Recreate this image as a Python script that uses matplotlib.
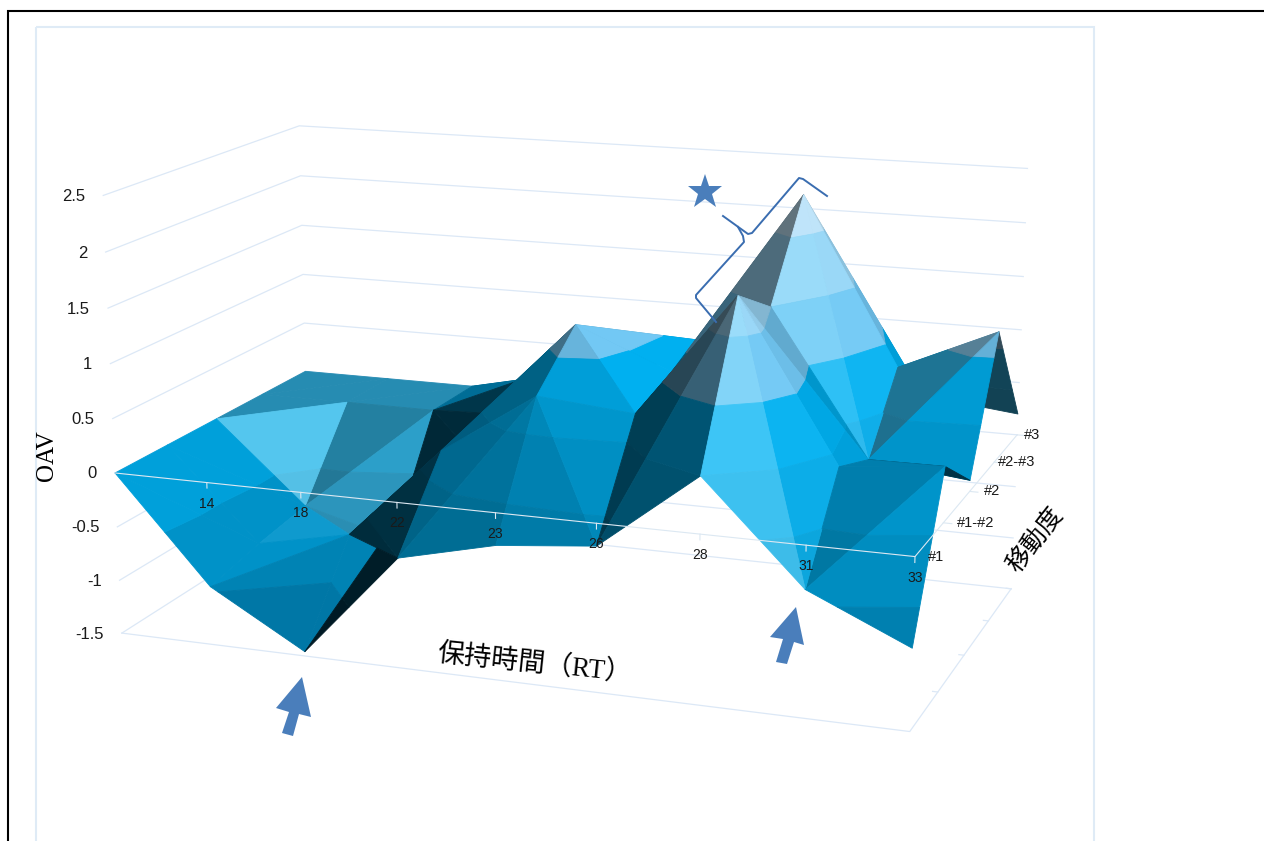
"""Surface of OAV over retention time and mobility, drawn on a fixed camera."""

import matplotlib
matplotlib.use("Agg")
import matplotlib.pyplot as plt
import numpy as np
from matplotlib.colors import to_rgb
from matplotlib.patches import Polygon, Rectangle
from mpl_toolkits.mplot3d.art3d import Poly3DCollection

rt_labels = ["", "14", "18", "22", "23", "26", "28", "31", "33"]
mobility_labels = ["#1", "#1-#2", "#2", "#2-#3", "#3"]
oav_ticks = [-1.5, -1, -0.5, 0, 0.5, 1, 1.5, 2, 2.5]

oav_1 = [0, -0.96, -1.46, -0.50, -0.29, -0.20, 0.50, -0.38, -0.78]
oav_1_2 = [0, -0.85, -0.67, 0.20, 0.78, 0.70, 1.81, 0.40, 0.49]
oav_2 = [0, -0.77, -1.00, 0.30, 1.20, 0.84, 1.50, 0.20, 0.10]
oav_2_3 = [0, 0, 0, 0.38, 0.40, 0.90, 2.32, 0.80, 1.20]
oav_3 = [0, 0, 0, 0, 0.40, 0.80, 1.00, 0.30, 0.20]

# camera fitted on the reference: (rt index, mobility index, oav) -> pixels
CAMERA = np.array([
    [89.33841, 58.09574, -5.731103, 115.0465],
    [3.966641, -12.65417, -112.9325, 472.9854],
    [-0.01164576, 0.03435906, -0.009784344, 1.0],
])
W, H = 1264, 841

BAND_EDGES = [-1.5, -1, -0.5, 0, 0.5, 1, 1.5, 2, 2.5]
BAND_COLORS = ["#0084B8", "#0092C8", "#00A0DA", "#00A8E6", "#00B0F0",
               "#72C8F4", "#9AD6F6", "#BFE4F8"]
HIGHLIGHT = np.array([0.6, 0.9, 1.0])
GRID = "#DCE8F6"
AXIS = "#DCE8F2"
ACCENT = "#4A7EBB"
BRACE = "#3A6DB0"
TEXT = "#1A1A1A"

# lighting read per facet: (rt cell, mobility cell, triangle) -> brightness
FACET_SHADE = {
    (0, 0, 0): 1.0, (0, 0, 1): 1.0, (0, 1, 0): 1.0, (0, 1, 1): 1.0,
    (0, 2, 0): 1.55, (0, 2, 1): 0.85, (0, 3, 0): 0.85, (0, 3, 1): 0.85,
    (1, 0, 0): 0.9, (1, 0, 1): 1.0, (1, 1, 0): 1.1, (1, 1, 1): 0.95,
    (1, 2, 0): 1.0, (1, 2, 1): 0.8, (1, 3, 0): 0.85, (1, 3, 1): 0.85,
    (2, 0, 0): 0.9, (2, 0, 1): 0.3, (2, 0, 2): 0.2, (2, 1, 0): 0.35, (2, 1, 1): 0.3,
    (2, 2, 0): 0.25, (2, 2, 1): 0.32, (2, 3, 0): 0.65, (2, 3, 1): 0.65,
    (3, 0, 0): 0.68, (3, 0, 1): 0.62, (3, 1, 0): 0.55, (3, 1, 1): 0.5,
    (3, 2, 0): 0.55, (3, 2, 1): 0.55, (3, 3, 0): 0.6, (3, 3, 1): 0.6,
    (4, 0, 0): 0.77, (4, 0, 1): 0.85, (4, 1, 0): 0.9, (4, 1, 1): 1.0,
    (4, 2, 0): 1.0, (4, 2, 1): 0.8, (4, 3, 0): 0.7, (4, 3, 1): 0.7,
    (5, 0, 0): 0.48, (5, 0, 1): 0.35, (5, 1, 0): 0.38, (5, 1, 1): 0.4,
    (5, 2, 0): 0.5, (5, 2, 1): 0.45, (5, 3, 0): 0.7, (5, 3, 1): 0.7,
    (6, 0, 0): 1.4, (6, 0, 1): 1.08, (6, 1, 0): 0.95, (6, 1, 1): 0.85,
    (6, 2, 0): 1.3, (6, 2, 1): 1.1, (6, 3, 0): 0.9, (6, 3, 1): 0.9,
    (7, 0, 0): 0.88, (7, 0, 1): 0.75, (7, 1, 0): 0.75, (7, 1, 1): 0.3,
    (7, 2, 0): 0.88, (7, 2, 1): 0.68, (7, 3, 0): 0.7, (7, 3, 1): 0.4,
}
# flat facets come out slate rather than pure blue
GREYED = {(0, 2, 1), (0, 3, 0), (0, 3, 1), (1, 1, 1), (1, 2, 0), (1, 2, 1),
          (1, 3, 0), (1, 3, 1), (7, 2, 1), (7, 3, 1)}

plt.rcParams["font.family"] = ["Liberation Sans", "DejaVu Sans"]


def to_px(i, j, z):
    x, y, w = CAMERA @ np.array([i, j, z, 1.0])
    return x / w, y / w


def fixed_proj(ax):
    """Projection matrix that sends data coordinates to the fitted pixels."""
    inv = ax.transData.inverted()
    (x0, y0), (x1, y1) = inv.transform([(0, 0), (W, H)])
    sx, sy = (x1 - x0) / W, (y1 - y0) / H
    px, py, pw = CAMERA
    return np.array([
        sx * px + x0 * pw,
        -sy * py + (y0 + sy * H) * pw,
        [0, 0, 0, -1.0],
        pw,
    ])


def clip_band(tri, lo, hi):
    poly = [np.asarray(p, float) for p in tri]
    if all(p[2] == hi for p in poly):
        return None
    for level, keep_above in ((lo, True), (hi, False)):
        out = []
        for a, b in zip(poly, poly[1:] + poly[:1]):
            da = a[2] - level if keep_above else level - a[2]
            db = b[2] - level if keep_above else level - b[2]
            if da >= 0:
                out.append(a)
            if da * db < 0:
                out.append(a + (b - a) * da / (da - db))
        poly = out
        if len(poly) < 3:
            return None
    return poly


def facet_color(band_color, key):
    rgb = np.array(to_rgb(band_color))
    shade = FACET_SHADE.get(key, 0.8)
    if key in GREYED:
        rgb = rgb * 0.72 + 0.28 * 0.62
    if shade <= 1:
        return tuple(rgb * shade)
    return tuple(rgb + (HIGHLIGHT - rgb).clip(0) * (shade - 1))


def surface_facets(z):
    """Split each cell on its higher diagonal, then cut facets on the bands."""
    polys, colors = [], []
    for j in range(z.shape[0] - 1):
        for i in range(z.shape[1] - 1):
            p00 = np.array([i, j, z[j, i]])
            p10 = np.array([i + 1, j, z[j, i + 1]])
            p01 = np.array([i, j + 1, z[j + 1, i]])
            p11 = np.array([i + 1, j + 1, z[j + 1, i + 1]])
            if z[j, i] + z[j + 1, i + 1] >= z[j + 1, i] + z[j, i + 1]:
                tris = [(p00, p10, p11), (p00, p11, p01)]
            else:
                tris = [(p00, p10, p01), (p10, p11, p01)]
            if (i, j) == (2, 0):
                # the cell in front of the first dip folds: a dark sliver on its right
                fold = p01 + (p10 - p01) * 0.58
                tris = [(p00, fold, p01), tris[1], (p00, p10, fold)]
            for k, tri in enumerate(tris):
                for b, color in enumerate(BAND_COLORS):
                    piece = clip_band(tri, BAND_EDGES[b], BAND_EDGES[b + 1])
                    if piece is not None:
                        polys.append(np.array(piece))
                        colors.append(facet_color(color, (i, j, k)))
    return polys, colors


oav = np.array([oav_1, oav_1_2, oav_2, oav_2_3, oav_3])
n_rt, n_mob = len(rt_labels), len(mobility_labels)
last_i, last_j = n_rt - 1, n_mob - 1

fig = plt.figure(figsize=(W / 100, H / 100), dpi=100)
ax = fig.add_axes([0, (H - W) / 2 / H, 1, W / H], projection="3d",
                  computed_zorder=False)
ax.set_axis_off()
ax.patch.set_alpha(0)
ax.get_proj = lambda: fixed_proj(ax)

# walls and floor
for value in oav_ticks:
    ax.plot([0, 0, last_i], [0, last_j, last_j], [value] * 3,
            color=GRID, lw=0.9, zorder=1)
ax.plot([0, last_i, last_i], [0, 0, last_j], [-1.5] * 3, color=GRID, lw=0.9, zorder=1)
for j in range(1, n_mob):
    ax.plot([last_i, last_i - 0.05], [j, j], [-1.5, -1.5], color=GRID, lw=0.9, zorder=1)

polys, colors = surface_facets(oav)
ax.add_collection3d(Poly3DCollection(polys, facecolors=colors, edgecolors=colors,
                                     linewidths=0.6, zsort="average", zorder=2))

# axes in the zero plane sit over the surface
ax.plot([0, last_i, last_i], [0, 0, last_j], [0, 0, 0], color=AXIS, lw=0.8, zorder=3)
for i in range(1, n_rt):
    ax.plot([i, i], [0, 0], [0, -0.05], color=AXIS, lw=0.8, zorder=3)
for j in range(1, n_mob):
    ax.plot([last_i, last_i + 0.08], [j, j], [0, 0], color=AXIS, lw=0.8, zorder=3)

# annotations live in pixel space on top of the 3D view
ov = fig.add_axes([0, 0, 1, 1], zorder=5)
ov.set_xlim(0, W)
ov.set_ylim(H, 0)
ov.axis("off")
ov.patch.set_alpha(0)

for i in range(1, n_rt):
    x, y = to_px(i, 0, 0)
    ov.text(x, y + 21, rt_labels[i], ha="center", va="center", fontsize=10, color=TEXT)
for value in oav_ticks:
    x, y = to_px(0, 0, value)
    ov.text(x - 18, y + 1, f"{value:g}", ha="right", va="center", fontsize=12, color=TEXT)
label_nudge = [13, 14, 14, 4, 7]
for j, label in enumerate(mobility_labels):
    x, y = to_px(last_i, j, 0)
    ov.text(x + label_nudge[j], y, label, ha="left", va="center", fontsize=10.5, color=TEXT)

ov.add_patch(Rectangle((36, 27), 1058, 900, fill=False, ec="#DFEBF6", lw=1.5))
ov.plot([8, 8, W], [H, 11, 11], color="black", lw=1.5, solid_joinstyle="miter")
ov.add_patch(Polygon([(302, 677), (276, 708), (289, 712), (282, 733), (293, 736),
                      (299, 714), (311, 717)], fc=ACCENT, ec="none"))
ov.add_patch(Polygon([(796, 607), (770, 637), (783, 639), (776, 662), (787, 664),
                      (794, 642), (804, 645)], fc=ACCENT, ec="none"))
ov.plot([705], [192], marker="*", ms=26, color=ACCENT, mew=0)
ov.plot([827, 803, 799, 752, 748, 723], [196, 179, 178, 233, 234, 216],
        color=BRACE, lw=1.4, solid_joinstyle="round")
ov.plot([738, 743, 744, 696, 696, 716], [227, 236, 242, 295, 298, 322],
        color=BRACE, lw=1.4, solid_joinstyle="round")

title_font = ["Liberation Serif", "Noto Sans CJK JP"]
ov.text(47, 456, "OAV", rotation=90, ha="center", va="center", fontsize=18,
        family=title_font)
ov.text(535, 664, "保持時間（RT）", rotation=-6, ha="center", va="center", fontsize=19.5,
        family=title_font)
ov.text(1035, 540, "移動度", rotation=52, ha="center", va="center", fontsize=18,
        family=title_font)

fig.savefig("out.png", dpi=100)
